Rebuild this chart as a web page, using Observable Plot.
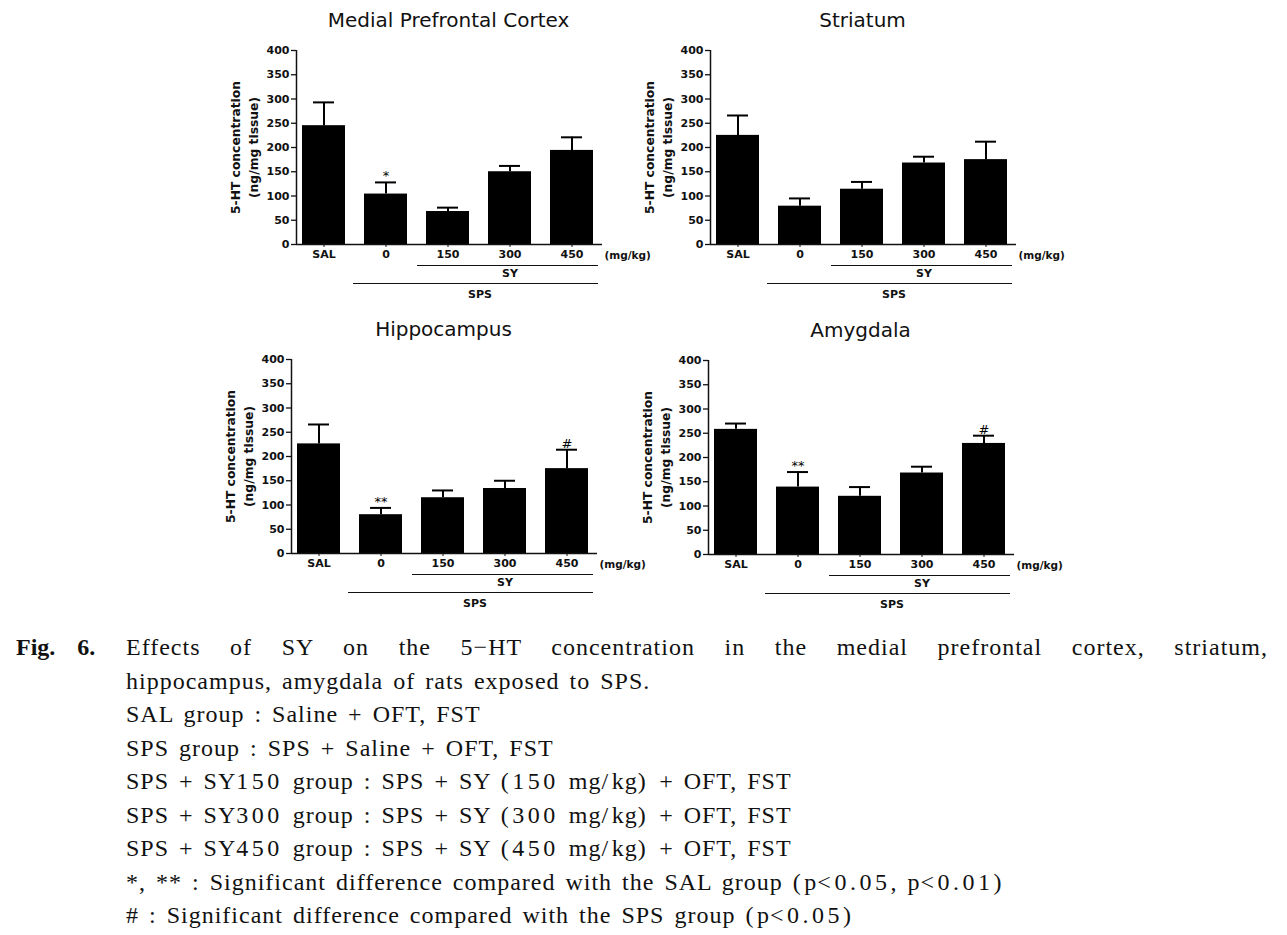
<!DOCTYPE html>
<html>
<head>
<meta charset="utf-8">
<script src="https://cdn.jsdelivr.net/npm/d3@7"></script>
<script src="https://cdn.jsdelivr.net/npm/@observablehq/plot@0.6"></script>
<style>
  html, body { margin: 0; padding: 0; background: #fff; }
  #page { position: relative; width: 1287px; height: 935px; overflow: hidden; background: #fff; }
  .panel { position: absolute; }
  .panel svg { overflow: visible; }
  #caption { position: absolute; left: 0; top: 631px; width: 1287px; font-family: "Liberation Serif", serif; font-size: 24px; line-height: 33.5px; color: #111; }
  #caption .fig { position: absolute; left: 16px; top: 0; font-weight: bold; word-spacing: 16px; }
  #caption .body { margin-left: 126px; width: 1142px; word-spacing: 3px; letter-spacing: 1px; white-space: nowrap; }
  #caption .first { text-align: justify; text-align-last: justify; white-space: normal; }
  #caption .w { letter-spacing: 3.5px; }
</style>
</head>
<body>
<div id="page"></div>
<script>
// ---- data ----
const groups = ["SAL", "0", "150", "300", "450"];
const yTicks = [0, 50, 100, 150, 200, 250, 300, 350, 400];

const titles = ["Medial Prefrontal Cortex", "Striatum", "Hippocampus", "Amygdala"];

const mpfcMean = [245, 104, 68, 150, 194];
const mpfcErr  = [48, 24, 8, 12, 27];
const mpfcSig  = ["", "*", "", "", ""];

const striatumMean = [225, 79, 114, 168, 175];
const striatumErr  = [41, 16, 15, 13, 37];
const striatumSig  = ["", "", "", "", ""];

const hippoMean = [226, 80, 115, 134, 175];
const hippoErr  = [40, 14, 15, 16, 39];
const hippoSig  = ["", "**", "", "", "#"];

const amygMean = [258, 139, 120, 168, 229];
const amygErr  = [12, 31, 19, 13, 16];
const amygSig  = ["", "**", "", "", "#"];

const yLabel1 = "5-HT concentration";
const yLabel2 = "(ng/mg tissue)";
const unitLabel = "(mg/kg)";
const brackets = [
  {label: "SY", from: "150", to: "450", labelAt: "300"},
  {label: "SPS", from: "0", to: "450", labelAt: "300"}
];

const captionFig = "Fig. 6.";
const captionLines = [
  "Effects of SY on the 5−HT concentration in the medial prefrontal cortex, striatum,",
  "hippocampus, amygdala of rats exposed to SPS.",
  "SAL group : Saline + OFT, FST",
  "SPS group : SPS + Saline + OFT, FST",
  "SPS + SY150 group : SPS + SY (150 mg/kg) + OFT, FST",
  "SPS + SY300 group : SPS + SY (300 mg/kg) + OFT, FST",
  "SPS + SY450 group : SPS + SY (450 mg/kg) + OFT, FST",
  "*, ** : Significant difference compared with the SAL group (p<0.05, p<0.01)",
  "# : Significant difference compared with the SPS group (p<0.05)"
];

// ---- layout (styles only) ----
const panels = [
  {title: titles[0], mean: mpfcMean, err: mpfcErr, sig: mpfcSig, left: 220, top: 0},
  {title: titles[1], mean: striatumMean, err: striatumErr, sig: striatumSig, left: 634, top: 0},
  {title: titles[2], mean: hippoMean, err: hippoErr, sig: hippoSig, left: 215, top: 309},
  {title: titles[3], mean: amygMean, err: amygErr, sig: amygSig, left: 632, top: 310}
];

const FONT = "DejaVu Sans, Verdana, sans-serif";
const INK = "#111";

function makePanel(p) {
  const data = groups.map((g, i) => ({group: g, mean: p.mean[i], err: p.err[i], top: p.mean[i] + p.err[i], sig: p.sig[i]}));
  const mL = 76, mT = 50, mB = 60, mR = 52, plotW = 304, plotH = 194;
  return Plot.plot({
    width: mL + plotW + mR,
    height: mT + plotH + mB,
    marginLeft: mL, marginTop: mT, marginBottom: mB, marginRight: mR,
    style: {fontFamily: FONT, background: "transparent", color: INK, overflow: "visible"},
    x: {domain: groups, paddingInner: 0.3, paddingOuter: 0.09, label: null},
    y: {domain: [0, 400], label: null},
    marks: [
      Plot.barY(data, {x: "group", y: "mean", fill: "#000"}),
      Plot.ruleX(data, {x: "group", y1: "mean", y2: "top", stroke: "#000", strokeWidth: 2}),
      Plot.tickY(data, {x: "group", y: "top", stroke: "#000", strokeWidth: 2, insetLeft: 11, insetRight: 11}),
      Plot.text(data.filter(d => d.sig), {x: "group", y: "top", text: "sig", lineAnchor: "bottom", dy: -2, fontSize: 13, fill: "#000", fontWeight: "normal", letterSpacing: 2}),
      Plot.axisY({ticks: yTicks, tickSize: 5, tickPadding: 2, fontSize: 11, fontWeight: "bold", stroke: INK, strokeWidth: 1.3, label: null}),
      Plot.ruleX([0], {frameAnchor: "left", x: null, y1: 0, y2: 400, stroke: INK, strokeWidth: 1.5, dx: -plotW / 2}),
      Plot.ruleY([0], {stroke: INK, strokeWidth: 1.5, insetRight: -2}),
      Plot.axisX({tickSize: 3, tickPadding: 3, fontSize: 11, fontWeight: "bold", stroke: INK, label: null}),
      Plot.text([unitLabel], {frameAnchor: "bottom-right", textAnchor: "start", lineAnchor: "middle", dx: 4, dy: 11, fontSize: 10.5, fontWeight: "bold"}),
      Plot.ruleY([brackets[0]], {x1: "from", x2: "to", y: () => 0, dy: 21, insetLeft: -9, insetRight: -5, stroke: INK, strokeWidth: 1.2}),
      Plot.text([brackets[0]], {x: "labelAt", text: "label", frameAnchor: "bottom", lineAnchor: "middle", dy: 29, fontSize: 11, fontWeight: "bold"}),
      Plot.ruleY([brackets[1]], {x1: "from", x2: "to", y: () => 0, dy: 39, insetLeft: -11, insetRight: -5, stroke: INK, strokeWidth: 1.2}),
      Plot.text([brackets[1]], {x: "labelAt", text: "label", frameAnchor: "bottom", lineAnchor: "middle", dy: 50, dx: -30, fontSize: 11, fontWeight: "bold"}),
      Plot.text([yLabel1], {frameAnchor: "left", textAnchor: "middle", lineAnchor: "middle", rotate: -90, dx: -60, fontSize: 12.3, fontWeight: "bold"}),
      Plot.text([yLabel2], {frameAnchor: "left", textAnchor: "middle", lineAnchor: "middle", rotate: -90, dx: -42, fontSize: 12.3, fontWeight: "bold"}),
      Plot.text([p.title], {frameAnchor: "top", lineAnchor: "middle", dy: -30, fontSize: 20, letterSpacing: 0.5, fontWeight: "normal"})
    ]
  });
}

const page = document.getElementById("page");
for (const p of panels) {
  const div = document.createElement("div");
  div.className = "panel";
  div.style.left = p.left + "px";
  div.style.top = p.top + "px";
  div.appendChild(makePanel(p));
  page.appendChild(div);
}

// caption (digits and brackets set a little wider, as in the original typeface)
function fillWide(el, text) {
  const parts = text.split(/([0-9().<\/]+)/);
  for (const part of parts) {
    if (!part) continue;
    if (/^[0-9().<\/]+$/.test(part)) {
      const s = document.createElement("span");
      s.className = "w";
      s.textContent = part;
      el.appendChild(s);
    } else {
      el.appendChild(document.createTextNode(part));
    }
  }
}
const cap = document.createElement("div");
cap.id = "caption";
const fig = document.createElement("div");
fig.className = "fig";
fig.textContent = captionFig;
cap.appendChild(fig);
captionLines.forEach((t, i) => {
  const d = document.createElement("div");
  d.className = "body" + (i === 0 ? " first" : "");
  if (i === 0) d.textContent = t; else fillWide(d, t);
  cap.appendChild(d);
});
page.appendChild(cap);
</script>
</body>
</html>
